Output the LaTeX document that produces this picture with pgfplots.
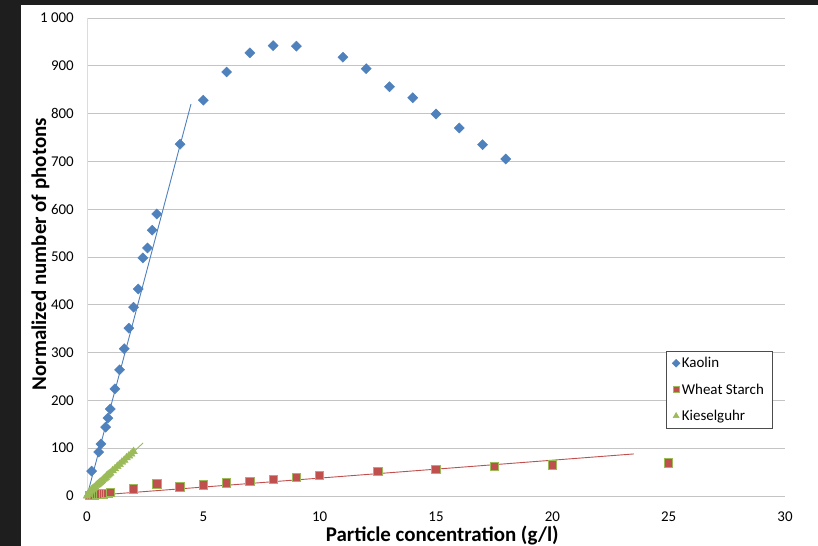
\documentclass[border=0pt]{standalone}
\usepackage{fontspec}
\setmainfont{Carlito}
\usepackage{pgfplots}
\pgfplotsset{compat=1.18}
\definecolor{kblue}{HTML}{4F81BD}
\definecolor{wred}{HTML}{C0504D}
\definecolor{kgreen}{HTML}{9BBB59}
\definecolor{bgdark}{HTML}{1E1E1E}
\definecolor{gridc}{HTML}{C4C4C4}
\begin{document}
\begin{tikzpicture}[x=1bp,y=1bp]
\fill[bgdark] (0,0) rectangle (818,546);
\fill[white] (21,0) rectangle (818,541);
\useasboundingbox (0,0) rectangle (818,546);
\begin{axis}[
  at={(87bp,50bp)}, anchor=south west,
  scale only axis, width=698bp, height=478bp,
  xmin=0, xmax=30, ymin=0, ymax=1000,
  xtick={0,5,...,30}, ytick={0,100,...,1000},
  ymajorgrids, grid style={gridc, line width=0.9bp},
  axis x line*=bottom, axis y line*=left,
  x axis line style={gridc, line width=0.9bp, -},
  y axis line style={gridc!60, line width=0.9bp, -},
  major tick length=0pt,
  clip=false,
  ticklabel style={font=\fontsize{15}{18}\selectfont, inner sep=0pt},
  /pgf/number format/assume math mode=true,
  /pgf/number format/1000 sep={\ },
  yticklabel style={xshift=-13bp},
  xticklabel style={yshift=-16bp},
  xlabel={Particle concentration (g/l)},
  ylabel={Normalized number of photons},
  label style={font=\fontsize{21}{25}\selectfont\bfseries},
  xlabel style={at={(axis description cs:0.509,-0.0945)}, anchor=base, inner sep=0pt},
  ylabel style={at={(axis description cs:-0.0587,0.506)}, anchor=base, inner sep=0pt},
  legend style={at={(axis description cs:0.8295,0.3033)}, anchor=north west,
    draw=black!70, line width=0.6bp, fill=white,
    font=\fontsize{15}{18}\selectfont, inner xsep=6bp, inner ysep=4bp, row sep=10.5bp,
    cells={anchor=west}},
  legend cell align=left,
  legend image post style={scale=0.75},
]
\addplot[only marks, mark=square*, mark size=3.6, mark options={rotate=45, fill=kblue, draw=kblue}] coordinates {
(0.2,52)(0.5,92)(0.6,109)(0.8,144)(0.9,163)(1.0,182)(1.2,224)(1.4,264)(1.6,308)(1.8,351)
(2.0,395)(2.2,433)(2.4,498)(2.6,519)(2.8,556)(3.0,590)(4,736)(5,828)(6,887)(7,927)
(8,942)(9,941)(11,918)(12,894)(13,856)(14,833)(15,799)(16,770)(17,735)(18,705)};
\addlegendentry{Kaolin}
\addplot[only marks, mark=square*, mark size=4.2, mark options={fill=wred, draw=kgreen, line width=0.9bp}] coordinates {
(0.1,1)(0.2,2)(0.3,2)(0.4,3)(0.5,3)(0.6,4)(0.7,4)(0.8,5)(0.9,5)(1.0,7)
(2,15)(3,25)(4,19)(5,23)(6,27)(7,31)(8,35)(9,39)(10,43)(12.5,51)
(15,56)(17.5,62)(20,65)(25,69)};
\addlegendentry{Wheat Starch}
\addplot[only marks, mark=triangle*, mark size=4.5, mark options={fill=kgreen, draw=kgreen}] coordinates {
(0,0)(0.05,4)(0.1,8)(0.15,10)(0.2,13)(0.25,15)(0.3,17)(0.35,19)(0.4,22)(0.45,24)
(0.5,26)(0.55,28)(0.6,30)(0.65,32)(0.7,35)(0.75,37)(0.8,39)(0.85,42)(0.9,44)(0.95,46)
(1.0,48)(1.1,53)(1.2,57)(1.3,62)(1.4,66)(1.5,71)(1.6,75)(1.7,80)(1.8,84)(1.9,88)(2.0,93)};
\addlegendentry{Kieselguhr}
\addplot[kblue, line width=0.9bp, forget plot] coordinates {(0,0)(4.47,820)};
\addplot[wred, line width=0.9bp, forget plot] coordinates {(0,0)(23.5,88)};
\addplot[kgreen, line width=0.9bp, forget plot] coordinates {(0,0)(2.41,111)};
\end{axis}
\end{tikzpicture}
\end{document}
